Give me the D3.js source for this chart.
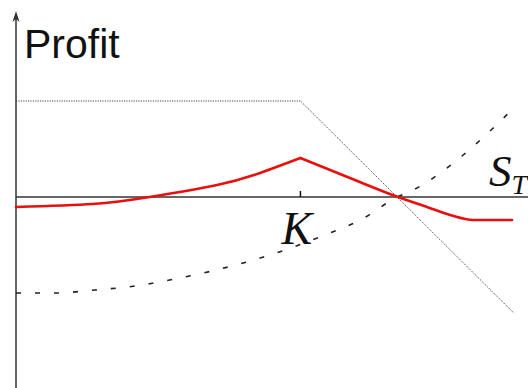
<!DOCTYPE html>
<html>
<head>
<meta charset="utf-8">
<script src="https://cdn.jsdelivr.net/npm/d3@7"></script>
<style>
  html, body { margin: 0; padding: 0; background: #fff; }
  svg { display: block; }
</style>
</head>
<body>
<div id="chart"></div>
<script>
// stock price at expiry (K = 100) and profit values
var strike = 100;

var dottedS      = [0, 100, 175];
var dottedProfit = [9.6, 9.6, -11.6];

var dashedS      = [0, 13.7, 27.8, 41.8, 55.9, 68.9, 82.3, 95.6, 108.6, 121.7, 134, 139.6, 156.8, 167.4, 175];
var dashedProfit = [-9.6, -9.6, -9.3, -8.9, -8.2, -7.4, -6.4, -5.2, -3.8, -2.2, 0, 0.7, 4.1, 6.8, 8.9];

// red curve, in two pieces either side of K
var redLeftS       = [0, 27, 47, 70.7, 85.8, 100];
var redLeftProfit  = [-1.0, -0.7, 0, 1.2, 2.4, 3.9];
var redRightS      = [100, 117.4, 134.3, 144.5, 152.6, 160.7, 174.4];
var redRightProfit = [3.9, 1.9, 0, -1.0, -1.8, -2.3, -2.3];

var width = 528, height = 388;

var x = d3.scaleLinear().domain([0, 180]).range([16, 528]);
var y = d3.scaleLinear().domain([-20, 20]).range([397, -3]);

var svg = d3.select("#chart")
    .append("svg")
    .attr("width", width)
    .attr("height", height);

function pts(xs, ys) {
  return xs.map(function(v, i) { return [v, ys[i]]; });
}

function line(curve) {
  return d3.line()
      .x(function(d) { return x(d[0]); })
      .y(function(d) { return y(d[1]); })
      .curve(curve);
}

// axes
svg.append("line")
    .attr("x1", x(0)).attr("x2", x(0))
    .attr("y1", 16).attr("y2", height)
    .attr("stroke", "#333").attr("stroke-width", 1.5);

svg.append("path")
    .attr("d", "M" + x(0) + ",11 L" + (x(0) - 3.5) + ",22 L" + x(0) + ",19 L" + (x(0) + 3.5) + ",22 Z")
    .attr("fill", "#333");

svg.append("line")
    .attr("x1", x(0)).attr("x2", width)
    .attr("y1", y(0)).attr("y2", y(0))
    .attr("stroke", "#333").attr("stroke-width", 1.5);

// tick at K
svg.append("line")
    .attr("x1", x(strike)).attr("x2", x(strike))
    .attr("y1", y(0) - 6).attr("y2", y(0))
    .attr("stroke", "#111").attr("stroke-width", 1.5);

// short call (dotted)
svg.append("path")
    .attr("d", line(d3.curveLinear)(pts(dottedS, dottedProfit)))
    .attr("fill", "none")
    .attr("stroke", "#444")
    .attr("stroke-width", 1)
    .attr("stroke-dasharray", "1.2,1.2");

// dashed curve
svg.append("path")
    .attr("d", line(d3.curveMonotoneX)(pts(dashedS, dashedProfit)))
    .attr("fill", "none")
    .attr("stroke", "#222")
    .attr("stroke-width", 1.6)
    .attr("stroke-dasharray", "5,14");

// combined (red)
svg.append("path")
    .attr("d", line(d3.curveNatural)(pts(redLeftS, redLeftProfit)))
    .attr("fill", "none")
    .attr("stroke", "#e8100f")
    .attr("stroke-width", 2.6)
    .attr("stroke-linecap", "round");

svg.append("path")
    .attr("d", line(d3.curveMonotoneX)(pts(redRightS, redRightProfit)))
    .attr("fill", "none")
    .attr("stroke", "#e8100f")
    .attr("stroke-width", 2.6)
    .attr("stroke-linecap", "round");

// labels
svg.append("text")
    .attr("x", 24).attr("y", 58)
    .attr("font-family", "Liberation Sans, Arial, sans-serif")
    .attr("font-size", 41)
    .attr("fill", "#111")
    .text("Profit");

svg.append("text")
    .attr("x", x(strike) - 19).attr("y", 244)
    .attr("font-family", "Liberation Serif, Times New Roman, serif")
    .attr("font-style", "italic")
    .attr("font-size", 46)
    .attr("fill", "#111")
    .text("K");

var st = svg.append("text")
    .attr("x", 489).attr("y", 186)
    .attr("font-family", "Liberation Serif, Times New Roman, serif")
    .attr("font-style", "italic")
    .attr("font-size", 45)
    .attr("fill", "#111");
st.append("tspan").text("S");
st.append("tspan")
    .attr("font-size", 28)
    .attr("dy", 8)
    .text("T");
</script>
</body>
</html>
